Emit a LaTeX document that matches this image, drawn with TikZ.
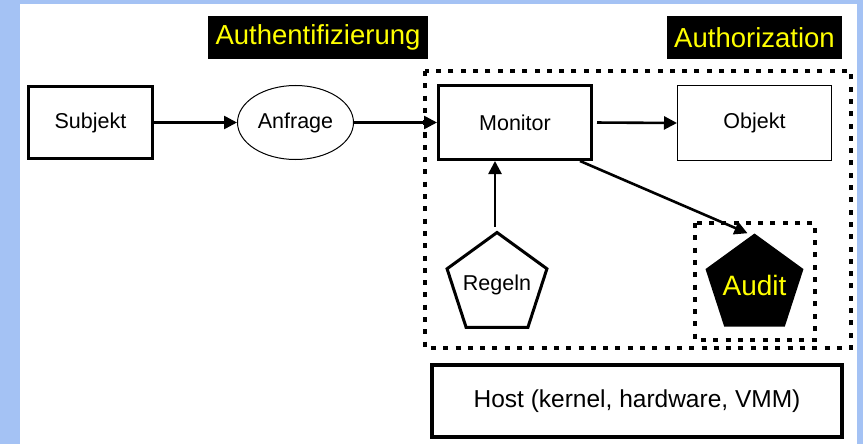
\documentclass[tikz,border=0pt]{standalone}
\usepackage{fontspec}
\setmainfont{Liberation Sans}
\usetikzlibrary{arrows.meta,shapes.geometric}
\definecolor{frameblue}{HTML}{A4C2F4}
\definecolor{tagyellow}{HTML}{FFFF00}
\tikzset{
  fs/.style={font=\fontsize{#1}{#1}\selectfont},
  thickbox/.style={draw, line width=3pt, rectangle, inner sep=0pt, fs=21.5},
  thinbox/.style={draw, line width=1pt, rectangle, inner sep=0pt, fs=21.5},
  tag/.style={fill=black, text=tagyellow, inner sep=0pt, minimum width=220pt, minimum height=43pt, fs=27.5},
  dotbox/.style={line width=4.5pt, dash pattern=on 5pt off 7.3pt},
  flow/.style={line width=2.6pt, -{Triangle[length=13pt,width=13pt]}},
  penta/.style={regular polygon, regular polygon sides=5, inner sep=-14pt}
}
\begin{document}
\begin{tikzpicture}[x=1pt, y=-1pt]
  % frame and canvas
  \fill[frameblue] (0,0) rectangle (863,444);
  \fill[white] (20,4) rectangle (857,444);
  \useasboundingbox (0,0) rectangle (863,444);

  % headings
  \node[tag] (authn) at (318,37.5) {Authentifizierung};
  \node[tag, minimum width=175pt] (authz) at (754.5,37.5) {Authorization};

  % dotted enclosures
  \draw[dotbox] (425,71) rectangle (851,348);
  \draw[dotbox] (695,223) rectangle (815,340);

  % main nodes
  \node[thickbox, minimum width=124pt, minimum height=72pt] (subjekt) at (90.5,122.5) {Subjekt};
  \node[ellipse, draw, line width=1pt, inner sep=0pt, minimum width=116pt, minimum height=74pt, fs=21.5] (anfrage) at (295.5,122.5) {Anfrage};
  \node[thickbox, minimum width=153pt, minimum height=74pt] (monitor) at (515,122.5) {Monitor};
  \node[thinbox, minimum width=154pt, minimum height=75pt] (objekt) at (754.5,123) {Objekt};
  \node[penta, draw, line width=3pt, minimum size=105pt, fs=21.5] (regeln) at (497,285) {Regeln};
  \node[penta, fill=black, text=tagyellow, minimum size=103pt, fs=28] (audit) at (754.5,285) {Audit};
  \node[draw, line width=4pt, inner sep=0pt, minimum width=410pt, minimum height=72pt, fs=24.5] (host) at (637,401) {Host (kernel, hardware, VMM)};

  % connectors
  \draw[flow] (subjekt.east) -- (anfrage.west);
  \draw[flow] (anfrage.east) -- (monitor.west);
  \draw[flow, shorten <=4pt] (monitor.east) -- (objekt.west);
  \draw[flow, shorten <=4pt] ([xshift=-2pt]regeln.corner 1) -- ([xshift=-2pt]regeln.corner 1 |- monitor.south);
  \draw[flow] ([xshift=-13pt]monitor.south east) -- ([xshift=-7pt]audit.corner 1);
\end{tikzpicture}
\end{document}
